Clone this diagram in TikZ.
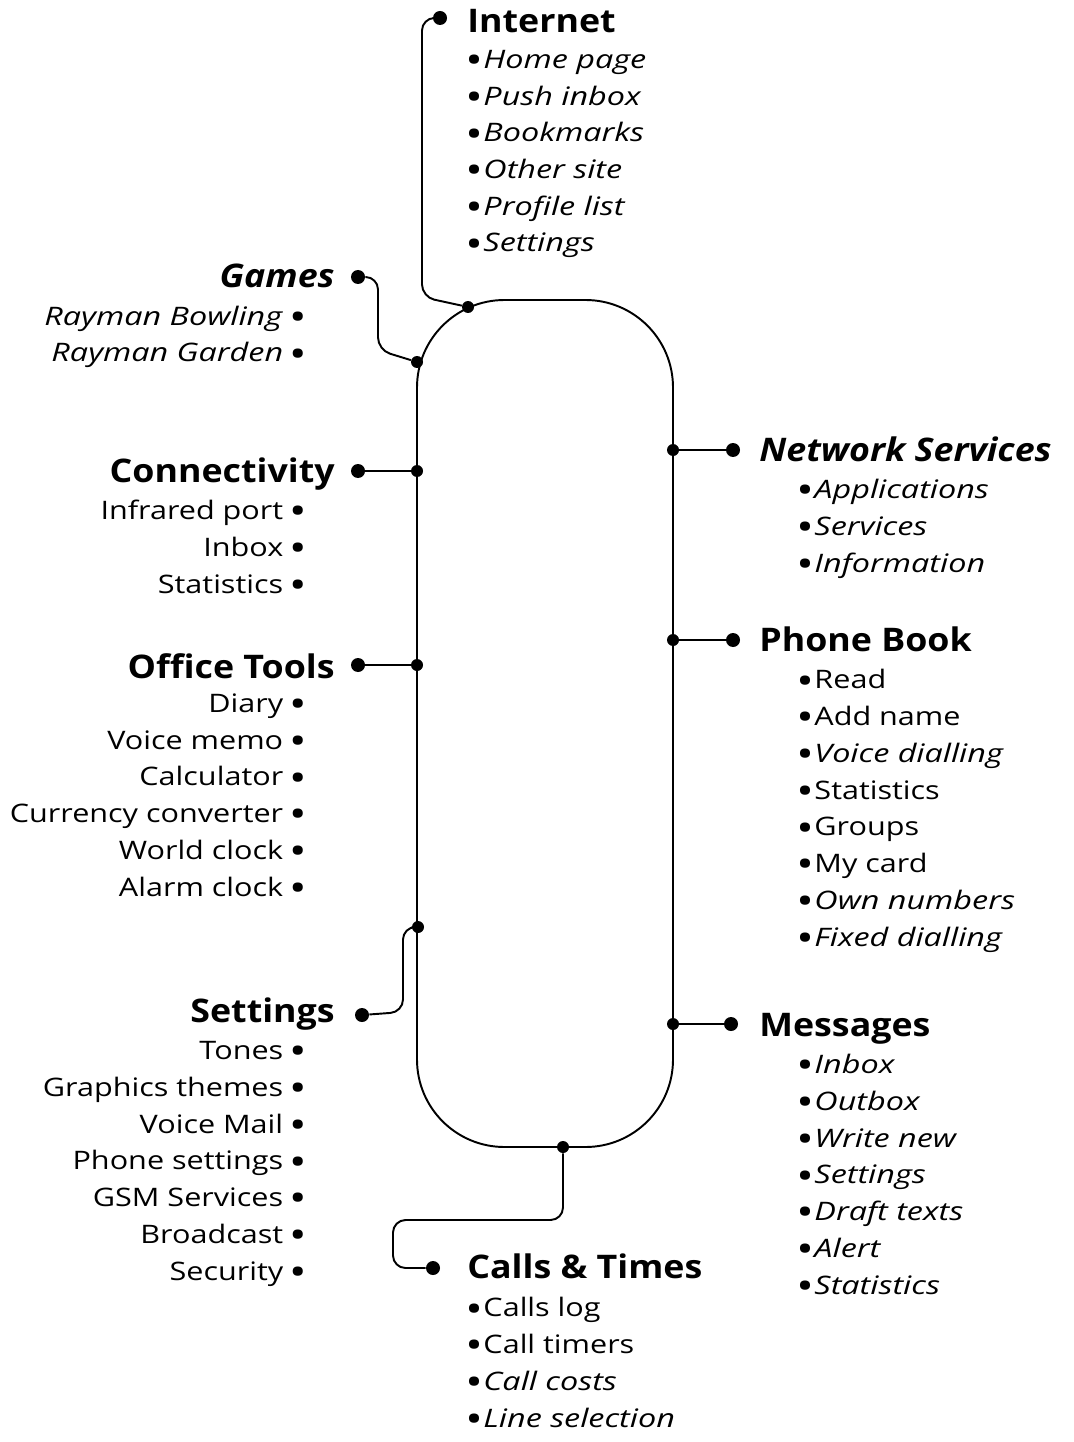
\documentclass[tikz,border=0pt]{standalone}
\usepackage{fontspec}
\setmainfont{Open Sans}[FakeStretch=1.2, ItalicFeatures={FakeStretch=1.27}]
\newfontfamily\headfont{Open Sans}[FakeStretch=1.1, ItalicFeatures={FakeStretch=1.22}]
\newcommand{\bul}{\raisebox{-1.3pt}{\fontsize{17}{0}\selectfont\bfseries\upshape •}}
\newcommand{\lbul}{\bul\kern1.5pt}
\usetikzlibrary{positioning}

\begin{document}
\begin{tikzpicture}[x=0.02cm, y=-0.02cm,
    head/.style={font=\headfont\fontsize{18.5}{22}\selectfont\bfseries, inner sep=0pt},
    items/.style={font=\fontsize{14.5}{20.9}\selectfont, inner sep=0pt},
    junction/.style={circle, fill, inner sep=0pt, minimum size=0.24cm},
    enddot/.style={circle, fill, inner sep=0pt, minimum size=0.28cm},
    track/.style={draw, line width=1.1pt},
    line/.style={draw, line width=1.1pt, rounded corners=0.25cm}]

    \useasboundingbox (0,0) rectangle (1073,1442);

    \path [track, rounded corners=1.75cm] (417,300) rectangle (673,1147);

    % junctions on the track
    \node [junction] (internetj) at (468,307) {};
    \node [junction] (gamesj) at (417,362) {};
    \node [junction] (connj) at (417,471) {};
    \node [junction] (officej) at (417,665) {};
    \node [junction] (settingsj) at (418,927) {};
    \node [junction] (callsj) at (563,1147) {};
    \node [junction] (netj) at (673,450) {};
    \node [junction] (phonej) at (673,640) {};
    \node [junction] (msgj) at (673,1024) {};

    % end dots
    \node [enddot] (internetdot) at (440,18) {};
    \node [enddot] (gamesdot) at (358,277) {};
    \node [enddot] (conndot) at (358,471) {};
    \node [enddot] (officedot) at (358,665) {};
    \node [enddot] (settingsdot) at (362,1015) {};
    \node [enddot] (callsdot) at (433,1268) {};
    \node [enddot] (netdot) at (733,450) {};
    \node [enddot] (phonedot) at (733,640) {};
    \node [enddot] (msgdot) at (731,1024) {};

    \path [line] (internetj) -- (422,297) |- (internetdot);
    \path [line] (gamesdot) -| (378,350) -- (gamesj);
    \path [line] (conndot) -- (connj);
    \path [line] (officedot) -- (officej);
    \path [line] (settingsj) -| (403,1012) -- (settingsdot);
    \path [line] (callsj) |- (393,1220) |- (callsdot);
    \path [line] (netj) -- (netdot);
    \path [line] (phonej) -- (phonedot);
    \path [line] (msgj) -- (msgdot);

    % headings
    \node [head, anchor=base west] (internet) at (467,33) {Internet};
    \node [head, anchor=base east] (games) at (335,288) {\itshape Games};
    \node [head, anchor=base east] (conn) at (335,482) {Connectivity};
    \node [head, anchor=base east] (office) at (335,678) {Office Tools};
    \node [head, anchor=base east] (settings) at (335,1022) {Settings};
    \node [head, anchor=base west] (calls) at (467,1278) {Calls \& Times};
    \node [head, anchor=base west] (net) at (759,461) {\itshape Network Services};
    \node [head, anchor=base west] (phone) at (759,651) {Phone Book};
    \node [head, anchor=base west] (msg) at (759,1036) {Messages};

    % sub-menus (anchored on the baseline of their last line)
    \node [items, align=left, anchor=base west] (internetlist) at (467,252)
        {\lbul\textit{Home page}\\\lbul\textit{Push inbox}\\\lbul\textit{Bookmarks}\\\lbul\textit{Other site}\\\lbul\textit{Profile list}\\\lbul\textit{Settings}};
    \node [items, align=right, anchor=base east] (gameslist) at (305,362)
        {\textit{Rayman Bowling} \bul\\\textit{Rayman Garden} \bul};
    \node [items, align=right, anchor=base east] (connlist) at (305,593)
        {Infrared port \bul\\Inbox \bul\\Statistics \bul};
    \node [items, align=right, anchor=base east] (officelist) at (305,896)
        {Diary \bul\\Voice memo \bul\\Calculator \bul\\Currency converter \bul\\World clock \bul\\Alarm clock \bul};
    \node [items, align=right, anchor=base east] (settingslist) at (305,1280)
        {Tones \bul\\Graphics themes \bul\\Voice Mail \bul\\Phone settings \bul\\GSM Services \bul\\Broadcast \bul\\Security \bul};
    \node [items, align=left, anchor=base west] (callslist) at (467,1427)
        {\lbul Calls log\\\lbul Call timers\\\lbul\textit{Call costs}\\\lbul\textit{Line selection}};
    \node [items, align=left, anchor=base west] (netlist) at (798,572)
        {\lbul\textit{Applications}\\\lbul\textit{Services}\\\lbul\textit{Information}};
    \node [items, align=left, anchor=base west] (phonelist) at (798,946)
        {\lbul Read\\\lbul Add name\\\lbul\textit{Voice dialling}\\\lbul Statistics\\\lbul Groups\\\lbul My card\\\lbul\textit{Own numbers}\\\lbul\textit{Fixed dialling}};
    \node [items, align=left, anchor=base west] (msglist) at (798,1294)
        {\lbul\textit{Inbox}\\\lbul\textit{Outbox}\\\lbul\textit{Write new}\\\lbul\textit{Settings}\\\lbul\textit{Draft texts}\\\lbul\textit{Alert}\\\lbul\textit{Statistics}};
\end{tikzpicture}
\end{document}
